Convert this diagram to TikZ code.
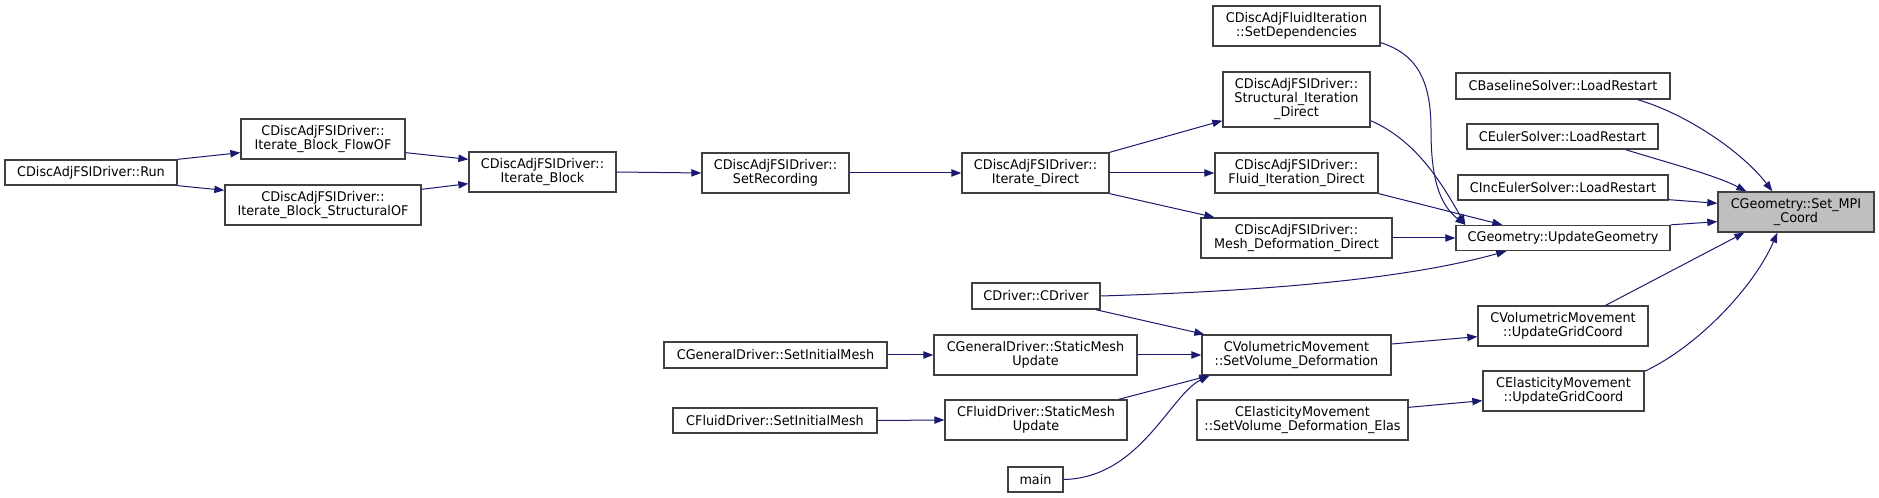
\documentclass[tikz,border=0pt]{standalone}
\usepackage{fontspec}
\setmainfont{DejaVu Sans}[FakeStretch=0.96]
\usetikzlibrary{arrows.meta,calc}
\definecolor{edgec}{HTML}{191970}
\definecolor{boxc}{HTML}{404040}
\definecolor{hlc}{HTML}{BFBFBF}
\begin{document}
\begin{tikzpicture}[x=0.75pt,y=-0.75pt,
  bx/.style 2 args={draw=boxc, line width=1pt, fill=white, minimum width=#1*0.75pt, minimum height=#2*0.75pt, inner sep=0pt, align=center, font=\fontsize{10pt}{10.5pt}\selectfont},
  hl/.style={fill=hlc},
  edge/.style={draw=edgec, line width=0.75pt, -{Triangle[length=7.5pt,width=5.5pt]}}]
\fill[white] (0,0) rectangle (1879,498);
\useasboundingbox (0,0) rectangle (1879,498);
% nodes
\node[bx={172}{25}] (run) at (91,172.5) {CDiscAdjFSIDriver::Run};
\node[bx={164}{40}] (flowof) at (323,139) {CDiscAdjFSIDriver::\\Iterate\_Block\_FlowOF};
\node[bx={196}{40}] (structof) at (323,205) {CDiscAdjFSIDriver::\\Iterate\_Block\_StructuralOF};
\node[bx={147}{40}] (iblock) at (542.5,172) {CDiscAdjFSIDriver::\\Iterate\_Block};
\node[bx={147}{40}] (setrec) at (775.5,173) {CDiscAdjFSIDriver::\\SetRecording};
\node[bx={147}{40}] (idirect) at (1035.5,173) {CDiscAdjFSIDriver::\\Iterate\_Direct};
\node[bx={167}{40}] (setdep) at (1296.5,26) {CDiscAdjFluidIteration\\::SetDependencies};
\node[bx={147}{55}] (structit) at (1296.5,99.5) {CDiscAdjFSIDriver::\\Structural\_Iteration\\\_Direct};
\node[bx={163}{40}] (fluidit) at (1296.5,173) {CDiscAdjFSIDriver::\\Fluid\_Iteration\_Direct};
\node[bx={191}{40}] (meshdef) at (1296.5,238) {CDiscAdjFSIDriver::\\Mesh\_Deformation\_Direct};
\node[bx={128}{26}] (cdriver) at (1036,296) {CDriver::CDriver};
\node[bx={223}{26}] (gsetinit) at (775.5,355) {CGeneralDriver::SetInitialMesh};
\node[bx={203}{40}] (gstatic) at (1035.5,355) {CGeneralDriver::StaticMesh\\Update};
\node[bx={189}{40}] (volsetdef) at (1296.5,355) {CVolumetricMovement\\::SetVolume\_Deformation};
\node[bx={204}{25}] (fsetinit) at (775,420.5) {CFluidDriver::SetInitialMesh};
\node[bx={182}{40}] (fstatic) at (1036,420) {CFluidDriver::StaticMesh\\Update};
\node[bx={211}{40}] (elasdef) at (1302.5,420) {CElasticityMovement\\::SetVolume\_Deformation\_Elas};
\node[bx={55}{25}] (main) at (1035.5,479.5) {main};
\node[bx={214}{26}] (baseline) at (1563,86) {CBaselineSolver::LoadRestart};
\node[bx={191}{25}] (euler) at (1562.5,136.5) {CEulerSolver::LoadRestart};
\node[bx={210}{25}] (inceuler) at (1563,187.5) {CIncEulerSolver::LoadRestart};
\node[bx={214}{25}] (updgeom) at (1563,238) {CGeometry::UpdateGeometry};
\node[bx={170}{40}] (volgrid) at (1563,326) {CVolumetricMovement\\::UpdateGridCoord};
\node[bx={161}{40}] (elasgrid) at (1563.5,391) {CElasticityMovement\\::UpdateGridCoord};
\node[bx={156}{40},hl] (setmpi) at (1796,212) {CGeometry::Set\_MPI\\\_Coord};
% edges
\draw[edge] (run.north east) -- ($(flowof.south west)+(0,-7)$);
\draw[edge] (run.south east) -- ($(structof.north west)+(0,6)$);
\draw[edge] ($(flowof.south east)+(0,-7)$) -- ($(iblock.north west)+(0,8)$);
\draw[edge] ($(structof.north east)+(0,5)$) -- ($(iblock.south west)+(0,-9)$);
\draw[edge] (iblock.east) -- (setrec.west);
\draw[edge] (setrec.east) -- (idirect.west);
\draw[edge] (idirect.north east) -- ($(structit.south west)+(0,-7)$);
\draw[edge] (idirect.east) -- (fluidit.west);
\draw[edge] (idirect.south east) -- ($(meshdef.north west)+(14,0)$);
\draw[edge] ($(setdep.south east)+(0,-4)$) .. controls (1420,55) and (1431,85) .. (1431,130) .. controls (1431,180) and (1440,205) .. ($(updgeom.north west)+(10,0)$);
\draw[edge] ($(structit.south east)+(0,-7)$) .. controls (1415,140) and (1440,180) .. ($(updgeom.north west)+(10,0)$);
\draw[edge] (fluidit.south east) -- ($(updgeom.north west)+(47,0)$);
\draw[edge] (meshdef.east) -- (updgeom.west);
\draw[edge] (cdriver.east) .. controls (1300,290) and (1420,275) .. ($(updgeom.south west)+(51,0)$);
\draw[edge] ($(cdriver.south east)+(-5,0)$) -- ($(volsetdef.north west)+(3,0)$);
\draw[edge] (gsetinit.east) -- (gstatic.west);
\draw[edge] (gstatic.east) -- (volsetdef.west);
\draw[edge] (fsetinit.east) -- (fstatic.west);
\draw[edge] ($(fstatic.north east)+(-9,0)$) -- ($(volsetdef.south west)+(8,0)$);
\draw[edge] (main.east) .. controls (1140,478) and (1170,395) .. ($(volsetdef.south west)+(8,0)$);
\draw[edge] ($(volsetdef.east)+(0,-11)$) -- ($(volgrid.south west)+(0,-10)$);
\draw[edge] ($(elasdef.north east)+(0,8)$) -- ($(elasgrid.south west)+(0,-11)$);
\draw[edge] ($(baseline.south east)+(-33,0)$) .. controls (1690,115) and (1745,155) .. ($(setmpi.north west)+(55,0)$);
\draw[edge] ($(euler.south east)+(-33,0)$) .. controls (1665,162) and (1715,175) .. ($(setmpi.north west)+(29,0)$);
\draw[edge] ($(inceuler.south east)+(0,-1)$) -- ($(setmpi.north west)+(0,12)$);
\draw[edge] (updgeom.north east) -- ($(setmpi.south west)+(0,-11)$);
\draw[edge] ($(volgrid.north east)+(-43,0)$) -- ($(setmpi.south west)+(27,0)$);
\draw[edge] ($(elasgrid.north east)+(0,1)$) .. controls (1700,345) and (1755,285) .. ($(setmpi.south west)+(60,0)$);
\end{tikzpicture}
\end{document}
